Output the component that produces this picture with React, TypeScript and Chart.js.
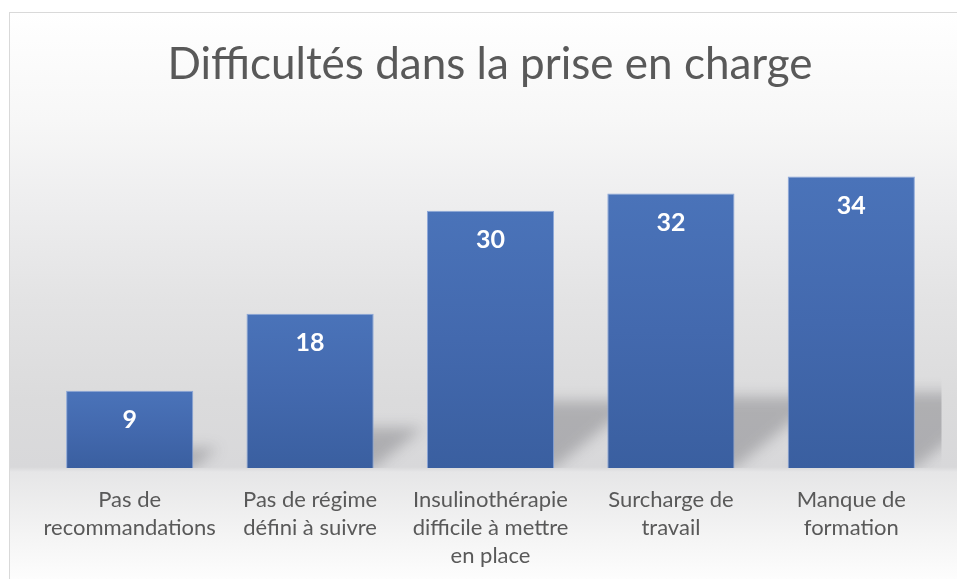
import React, { useEffect, useRef } from 'react';
import { Chart, registerables } from 'chart.js';

Chart.register(...registerables);

const TITLE = 'Difficultés dans la prise en charge';
const CATEGORIES: string[][] = [
  ['Pas de', 'recommandations'],
  ['Pas de régime', 'défini à suivre'],
  ['Insulinothérapie', 'difficile à mettre', 'en place'],
  ['Surcharge de', 'travail'],
  ['Manque de', 'formation'],
];
const VALUES = [9, 18, 30, 32, 34];
const Y_MIN = 0;
const Y_MAX = 40;

const W = 957;
const H = 579;
const FONT = 'Lato, "Open Sans", sans-serif';

const backgroundPlugin = {
  id: 'bgBox',
  beforeDraw(chart: any) {
    const ctx = chart.ctx;
    ctx.save();
    ctx.fillStyle = '#ffffff';
    ctx.fillRect(0, 0, W, H);
    const top = 12;
    const g = ctx.createLinearGradient(0, top, 0, H);
    const stop = (y: number, c: string) => g.addColorStop(Math.min(1, Math.max(0, (y - top) / (H - top))), c);
    stop(12, '#ffffff');
    stop(120, '#f7f7f7');
    stop(200, '#eeeeef');
    stop(300, '#e3e3e4');
    stop(400, '#dbdbdc');
    stop(467, '#d8d8da');
    stop(472, '#e6e6e7');
    stop(530, '#f3f3f3');
    stop(579, '#fdfdfd');
    ctx.fillStyle = g;
    ctx.fillRect(9, top, W, H);
    ctx.strokeStyle = '#d9d9d9';
    ctx.lineWidth = 1;
    ctx.strokeRect(9.5, top + 0.5, W + 10, H + 10);
    ctx.font = `44px ${FONT}`;
    ctx.fillStyle = '#595959';
    ctx.textAlign = 'center';
    ctx.textBaseline = 'alphabetic';
    ctx.fillText(TITLE, 490, 79);
    ctx.restore();
  },
};

const shadowPlugin = {
  id: 'barShadow',
  beforeDatasetsDraw(chart: any) {
    const ctx = chart.ctx;
    const area = chart.chartArea;
    const meta = chart.getDatasetMeta(0);
    ctx.save();
    ctx.beginPath();
    ctx.rect(area.left, area.top, area.right - area.left, area.bottom - area.top);
    ctx.clip();
    ctx.filter = 'blur(7px)';
    ctx.fillStyle = 'rgba(60,60,70,0.28)';
    meta.data.forEach((bar: any) => {
      const { x, y, base, width } = bar.getProps(['x', 'y', 'base', 'width'], true);
      const xl = x - width / 2;
      const xr = x + width / 2;
      const h = base - y;
      const dx = h * 0.32;
      const dy = h * 0.26;
      ctx.beginPath();
      ctx.moveTo(xl + 4, base);
      ctx.lineTo(xr, base);
      ctx.lineTo(xr + dx, base - dy);
      ctx.lineTo(xl + dx, base - dy);
      ctx.closePath();
      ctx.fill();
    });
    ctx.restore();
  },
};

const labelPlugin = {
  id: 'barLabels',
  afterDatasetsDraw(chart: any) {
    const ctx = chart.ctx;
    const meta = chart.getDatasetMeta(0);
    ctx.save();
    ctx.font = `bold 25px ${FONT}`;
    ctx.fillStyle = '#ffffff';
    ctx.textAlign = 'center';
    ctx.textBaseline = 'middle';
    meta.data.forEach((bar: any, i: number) => {
      const { x, y } = bar.getProps(['x', 'y'], true);
      ctx.fillText(String(VALUES[i]), x, y + 29);
    });
    ctx.restore();
  },
};

function barGradient(c: any) {
  const chart = c.chart;
  const ys = chart.scales && chart.scales.y;
  if (!ys || c.raw === undefined || !chart.chartArea) return '#4472c4';
  const top = ys.getPixelForValue(c.raw);
  const bottom = ys.getPixelForValue(0);
  if (!isFinite(top) || !isFinite(bottom)) return '#4472c4';
  const g = chart.ctx.createLinearGradient(0, top, 0, bottom);
  g.addColorStop(0, '#4a73b9');
  g.addColorStop(0.5, '#4369ae');
  g.addColorStop(1, '#3a5fa0');
  return g;
}

export default function App() {
  const ref = useRef<HTMLCanvasElement | null>(null);
  useEffect(() => {
    if (!ref.current) return;
    const chart = new Chart(ref.current, {
      type: 'bar',
      data: {
        labels: CATEGORIES,
        datasets: [
          {
            data: VALUES,
            backgroundColor: barGradient,
            borderColor: 'rgba(130,160,215,0.9)',
            borderWidth: 1,
            barPercentage: 0.705,
            categoryPercentage: 1,
          },
        ],
      },
      options: {
        responsive: false,
        animation: false,
        devicePixelRatio: 1,
        layout: { padding: { left: 39.5, right: 15.5, top: 125, bottom: 0 } },
        plugins: {
          legend: { display: false },
          title: { display: false },
          tooltip: { enabled: false },
        },
        scales: {
          y: { display: false, min: Y_MIN, max: Y_MAX },
          x: {
            grid: { display: false },
            border: { display: false },
            ticks: {
              color: '#595959',
              font: { family: FONT, size: 22, lineHeight: 1.27 },
              padding: 10,
              maxRotation: 0,
              autoSkip: false,
            },
            afterFit(scale: any) {
              scale.height = 111;
            },
          },
        },
      },
      plugins: [backgroundPlugin, shadowPlugin, labelPlugin],
    });
    return () => chart.destroy();
  }, []);
  return (
    <div style={{ position: 'absolute', left: 0, top: 0, width: W, height: H }}>
      <canvas ref={ref} width={W} height={H} style={{ display: 'block' }} />
    </div>
  );
}
